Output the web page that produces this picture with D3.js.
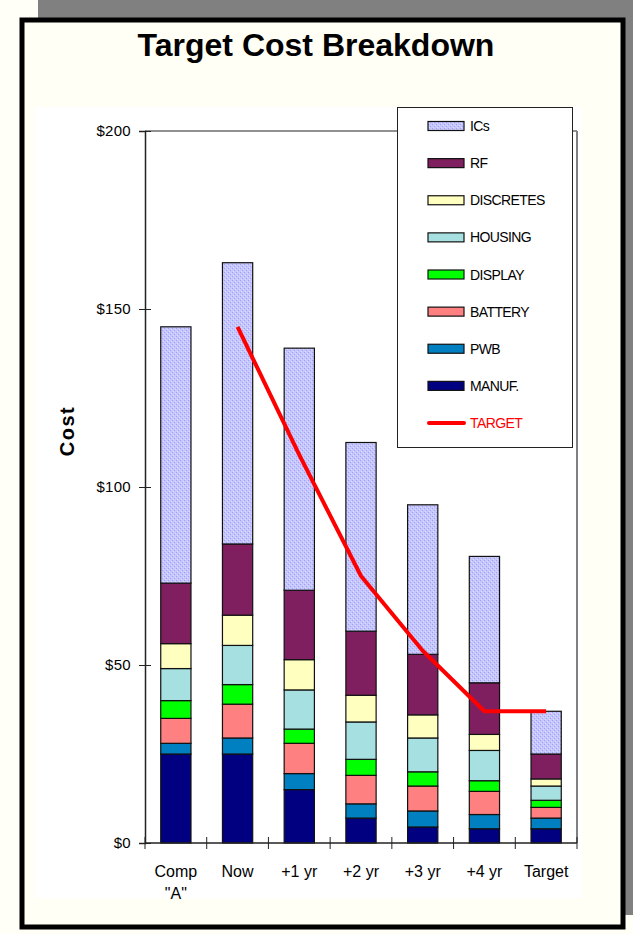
<!DOCTYPE html>
<html>
<head>
<meta charset="utf-8">
<script src="https://cdn.jsdelivr.net/npm/d3@7"></script>
<style>
  html, body { margin: 0; padding: 0; background: #fffff7; }
  svg { display: block; font-family: Arial, "Liberation Sans", sans-serif; }
</style>
</head>
<body>
<svg id="chart" width="633" height="934"></svg>
<script>
// categories and series (dollars)
const categories = ['Comp\n"A"', 'Now', '+1 yr', '+2 yr', '+3 yr', '+4 yr', 'Target']
const manuf     = [25, 25, 15, 7, 4.5, 4, 4]
const pwb       = [3, 4.5, 4.5, 4, 4.5, 4, 3]
const battery   = [7, 9.5, 8.5, 8, 7, 6.5, 3]
const display   = [5, 5.5, 4, 4.5, 4, 3, 2]
const housing   = [9, 11, 11, 10.5, 9.5, 8.5, 4]
const discretes = [7, 8.5, 8.5, 7.5, 6.5, 4.5, 2]
const rf        = [17, 20, 19.5, 18, 17, 14.5, 7]
const ics       = [72, 79, 68, 53, 42, 35.5, 12]
const target    = [null, 145, 109, 75, 54, 37, 37]
const yTicks    = [0, 50, 100, 150, 200]

const seriesNames = ['MANUF.', 'PWB', 'BATTERY', 'DISPLAY', 'HOUSING', 'DISCRETES', 'RF', 'ICs']
const seriesData = [manuf, pwb, battery, display, housing, discretes, rf, ics]
const colors = ['#000080', '#0080c0', '#ff8080', '#00ff00', '#a6e0e0', '#ffffc0', '#7f1f5f', 'url(#icsPattern)']

const svg = d3.select('#chart')

// hatched fill for the ICs segments
const defs = svg.append('defs')
const pat = defs.append('pattern')
  .attr('id', 'icsPattern')
  .attr('width', 4).attr('height', 4)
  .attr('patternUnits', 'userSpaceOnUse')
pat.append('rect').attr('width', 4).attr('height', 4).attr('fill', '#c6c6ff')
pat.append('rect').attr('x', 0).attr('y', 0).attr('width', 1).attr('height', 1).attr('fill', '#a0a0f4')
pat.append('rect').attr('x', 2).attr('y', 2).attr('width', 1).attr('height', 1).attr('fill', '#a0a0f4')
pat.append('rect').attr('x', 1).attr('y', 3).attr('width', 1).attr('height', 1).attr('fill', '#dcdcff')
pat.append('rect').attr('x', 3).attr('y', 1).attr('width', 1).attr('height', 1).attr('fill', '#dcdcff')

// drop shadow + frame
svg.append('rect').attr('x', 38).attr('y', 0).attr('width', 600).attr('height', 915).attr('fill', '#808080')
svg.append('rect').attr('x', 22).attr('y', 20).attr('width', 601).attr('height', 907)
  .attr('fill', '#fffff5').attr('stroke', '#000').attr('stroke-width', 5)

// white chart area
svg.append('rect').attr('x', 35).attr('y', 107).attr('width', 547).attr('height', 791).attr('fill', '#fff')

svg.append('text')
  .attr('x', 316).attr('y', 56)
  .attr('text-anchor', 'middle')
  .attr('font-size', 32).attr('font-weight', 'bold')
  .text('Target Cost Breakdown')

const plotLeft = 145, plotRight = 577, plotTop = 131, plotBottom = 843

const x = d3.scaleBand()
  .domain(categories)
  .range([plotLeft, plotRight])
  .paddingInner(0.51)
  .paddingOuter(0.255)

const y = d3.scaleLinear().domain([0, 200]).range([plotBottom, plotTop])

// plot area border (top dark, right gray)
svg.append('line').attr('x1', plotLeft).attr('x2', plotRight).attr('y1', plotTop).attr('y2', plotTop)
  .attr('stroke', '#222').attr('stroke-width', 1)
svg.append('line').attr('x1', plotRight).attr('x2', plotRight).attr('y1', plotTop).attr('y2', plotBottom)
  .attr('stroke', '#808080').attr('stroke-width', 2)

// stacked bars
const rows = categories.map((c, i) => {
  const r = { cat: c }
  seriesNames.forEach((s, k) => { r[s] = seriesData[k][i] })
  return r
})
const stacked = d3.stack().keys(seriesNames)(rows)

svg.append('g')
  .selectAll('g')
  .data(stacked)
  .join('g')
    .attr('fill', (d, k) => colors[k])
  .selectAll('rect')
  .data(d => d)
  .join('rect')
    .attr('x', d => x(d.data.cat))
    .attr('width', x.bandwidth())
    .attr('y', d => y(d[1]))
    .attr('height', d => y(d[0]) - y(d[1]))
    .attr('stroke', '#111')
    .attr('stroke-width', 1.2)

// y axis
const yAxis = svg.append('g')
  .attr('transform', `translate(${plotLeft},0)`)
  .call(d3.axisLeft(y).tickValues(yTicks).tickFormat(d => '$' + d).tickSize(6).tickPadding(8))
yAxis.attr('font-size', 15).attr('font-family', 'Arial, "Liberation Sans", sans-serif')
yAxis.select('.domain').attr('stroke', '#222').attr('stroke-width', 1.5)
yAxis.selectAll('.tick line').attr('x2', 6).attr('x1', -6).attr('stroke', '#222')
yAxis.selectAll('.tick text').attr('fill', '#000').attr('letter-spacing', 0.3)

// x axis: ticks between categories
const xAxis = svg.append('g').attr('transform', `translate(0,${plotBottom})`)
xAxis.append('line').attr('x1', plotLeft).attr('x2', plotRight).attr('stroke', '#222').attr('stroke-width', 1.5)
const boundaries = categories.map(c => x(c) - x.step() * x.paddingInner() / 2)
boundaries[0] = plotLeft
boundaries.push(plotRight)
xAxis.selectAll('line.tk')
  .data(boundaries)
  .join('line')
    .attr('class', 'tk')
    .attr('x1', d => d).attr('x2', d => d)
    .attr('y1', -6).attr('y2', 6)
    .attr('stroke', '#222')
const xLabels = xAxis.selectAll('text')
  .data(categories)
  .join('text')
    .attr('y', 34)
    .attr('text-anchor', 'middle')
    .attr('font-size', 16)
xLabels.selectAll('tspan')
  .data(d => d.split('\n').map(t => ({ t, cx: x(d) + x.bandwidth() / 2 })))
  .join('tspan')
    .attr('x', d => d.cx)
    .attr('dy', (d, i) => i === 0 ? 0 : 22)
    .text(d => d.t)

svg.append('text')
  .attr('transform', `translate(74,431) rotate(-90)`)
  .attr('text-anchor', 'middle')
  .attr('font-size', 20).attr('font-weight', 'bold')
  .attr('letter-spacing', 1.5)
  .text('Cost')

// target line
const line = d3.line()
  .defined(d => d.v != null)
  .x(d => x(d.cat) + x.bandwidth() / 2)
  .y(d => y(d.v))
svg.append('path')
  .datum(categories.map((c, i) => ({ cat: c, v: target[i] })))
  .attr('d', line)
  .attr('fill', 'none')
  .attr('stroke', '#ff0000')
  .attr('stroke-width', 4)
  .attr('stroke-linejoin', 'round')

// legend
const legend = svg.append('g')
legend.append('rect').attr('x', 397.5).attr('y', 107.5).attr('width', 175).attr('height', 340)
  .attr('fill', '#fff').attr('stroke', '#222').attr('stroke-width', 1)
const legendItems = seriesNames.map((s, k) => ({ name: s, color: colors[k] })).reverse()
const ly = d3.scalePoint().domain(legendItems.map(d => d.name).concat(['TARGET'])).range([126, 423])
legend.selectAll('rect.sw')
  .data(legendItems)
  .join('rect')
    .attr('class', 'sw')
    .attr('x', 428).attr('y', d => ly(d.name) - 4.5)
    .attr('width', 36).attr('height', 9)
    .attr('fill', d => d.color)
    .attr('stroke', '#111').attr('stroke-width', 1.2)
legend.append('line')
  .attr('x1', 429).attr('x2', 464).attr('y1', ly('TARGET')).attr('y2', ly('TARGET'))
  .attr('stroke', '#ff0000').attr('stroke-width', 4).attr('stroke-linecap', 'round')
legend.selectAll('text')
  .data(legendItems.map(d => d.name).concat(['TARGET']))
  .join('text')
    .attr('x', 470).attr('y', d => ly(d) + 5)
    .attr('font-size', 14)
    .attr('letter-spacing', -0.6)
    .attr('fill', d => d === 'TARGET' ? '#ff0000' : '#000')
    .text(d => d)
</script>
</body>
</html>
